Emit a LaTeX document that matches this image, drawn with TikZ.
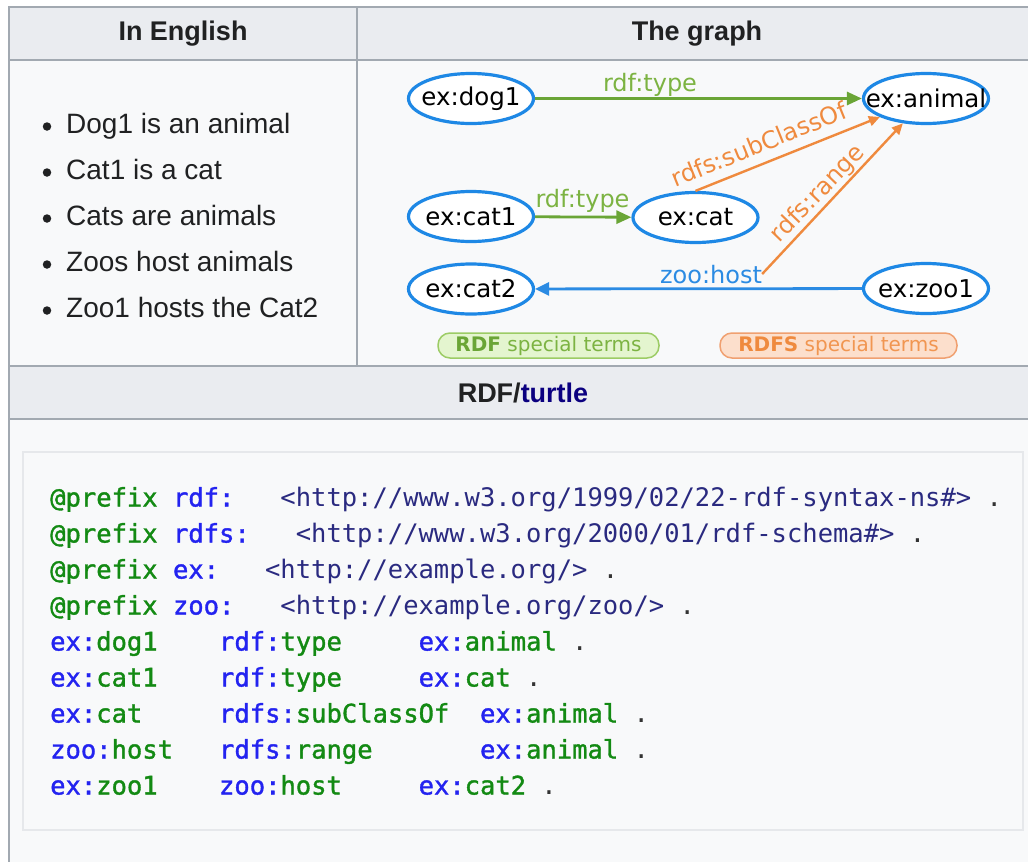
\documentclass[tikz,border=0pt]{standalone}
\usepackage{fontspec}
\setmainfont{Liberation Sans}
\newfontfamily\gfont{DejaVu Sans}
\newfontfamily\cfont{DejaVu Sans Mono}
\newfontfamily\cfontsb[FakeBold=1.4]{DejaVu Sans Mono}
\usetikzlibrary{arrows.meta,shapes.geometric}
\definecolor{hdr}{HTML}{EAECF0}
\definecolor{cell}{HTML}{F8F9FA}
\definecolor{bord}{HTML}{A2A9B1}
\definecolor{codeb}{HTML}{E6E8EB}
\definecolor{txt}{HTML}{202122}
\definecolor{nblue}{HTML}{1E88E5}
\definecolor{egreen}{HTML}{6AA536}
\definecolor{lgreen}{HTML}{7CB342}
\definecolor{eorange}{HTML}{EF8A3E}
\definecolor{eblue}{HTML}{2B8BE3}
\definecolor{kwg}{HTML}{138A13}
\definecolor{nsb}{HTML}{2323F0}
\definecolor{iric}{HTML}{2A2A80}
\definecolor{visited}{HTML}{0B0080}
\definecolor{rdfbox}{HTML}{E4F5CF}
\definecolor{rdfbord}{HTML}{9CCC65}
\definecolor{rdfsbox}{HTML}{FCDFCC}
\definecolor{rdfsbord}{HTML}{F0A070}
\newcommand\kw[1]{\textcolor{kwg}{\cfontsb #1}}
\newcommand\nsp[1]{\textcolor{nsb}{\cfontsb #1}}
\newcommand\loc[1]{\textcolor{kwg}{\cfontsb #1}}
\newcommand\iri[1]{\textcolor{iric}{#1}}
\newcommand\nt[1]{\makebox[0pt][c]{#1}}
\tikzset{
  tb/.style={draw=bord, line width=1.5pt},
  hdrtext/.style={font=\fontsize{27}{27}\selectfont\bfseries, text=txt},
  itemtext/.style={anchor=base west, font=\fontsize{28}{28}\selectfont, text=txt, inner sep=0pt},
  bul/.style={circle, fill=txt, minimum size=8.5pt, inner sep=0pt},
  gnode/.style={ellipse, draw=nblue, line width=3.2pt, fill=white, minimum width=125pt, minimum height=50pt, inner sep=0pt, font=\gfont\fontsize{24.5}{24.5}\selectfont, text=black},
  glabel/.style={font=\gfont\fontsize{24}{24}\selectfont, inner sep=0pt},
  gedge/.style={draw=egreen, line width=2.8pt, -{Triangle[length=15pt,width=13pt]}},
  oedge/.style={draw=eorange, line width=2.4pt, -{Triangle[length=11pt,width=10pt]}},
  bedge/.style={draw=eblue, line width=2.8pt, -{Triangle[length=14pt,width=13pt]}},
  legend/.style={rounded corners=12pt, line width=1.5pt, minimum height=25pt, inner sep=0pt, font=\gfont\fontsize{20}{20}\selectfont},
  codeline/.style={anchor=base west, inner sep=0pt, font=\cfont\fontsize{25.5}{25.5}\selectfont, text=black!80}
}
\begin{document}
\begin{tikzpicture}[x=1pt,y=-1pt]
\useasboundingbox (0,0) rectangle (1028,862);
\fill[white] (0,0) rectangle (1028,862);
% table background
\fill[hdr] (9,7) rectangle (1030,60);
\fill[cell] (9,60) rectangle (1030,366);
\fill[hdr] (9,366) rectangle (1030,419);
\fill[cell] (9,419) rectangle (1030,862);
\draw[tb] (9,7) -- (1030,7);
\draw[tb] (9,60) -- (1030,60);
\draw[tb] (9,366) -- (1030,366);
\draw[tb] (9,419) -- (1030,419);
\draw[tb] (9,6.25) -- (9,862);
\draw[tb] (357,7) -- (357,366);
% headers
\node[hdrtext] (h1) at (183,34) {In English};
\node[hdrtext] (h2) at (697,34) {The graph};
\node[hdrtext] (h3) at (523,393) {RDF/\textcolor{visited}{turtle}};
% bullet list
\node[bul] (b1) at (47,126.5) {};
\node[bul] (b2) at (47,172.5) {};
\node[bul] (b3) at (47,218.5) {};
\node[bul] (b4) at (47,264.5) {};
\node[bul] (b5) at (47,310.5) {};
\node[itemtext] (t1) at (66,133.3) {Dog1 is an animal};
\node[itemtext] (t2) at (66,179.3) {Cat1 is a cat};
\node[itemtext] (t3) at (66,225.3) {Cats are animals};
\node[itemtext] (t4) at (66,271.3) {Zoos host animals};
\node[itemtext] (t5) at (66,317.3) {Zoo1 hosts the Cat2};
% graph nodes
\node[gnode] (dog1) at (471,98.5) {\nt{ex:dog1}};
\node[gnode] (animal) at (926,98.5) {\nt{ex:animal}};
\node[gnode] (cat1) at (471,216.5) {\nt{ex:cat1}};
\node[gnode] (cat) at (695.5,217.5) {\nt{ex:cat}};
\node[gnode] (cat2) at (471,289) {\nt{ex:cat2}};
\node[gnode] (zoo1) at (926,288.5) {\nt{ex:zoo1}};
% edges
\draw[gedge] (dog1) -- (animal);
\node[glabel, anchor=base, text=lgreen] (l1) at (650,91) {rdf:type};
\draw[gedge] (cat1) -- (cat);
\node[glabel, anchor=base, text=lgreen] (l2) at (582.5,207) {rdf:type};
\draw[bedge] (zoo1) -- (cat2);
\node[glabel, anchor=base, text=eblue] (zh) at (711,283) {zoo:host};
\draw[oedge] (cat.north) -- (animal);
\node[glabel, rotate=22, text=eorange] (l3) at (759,144) {rdfs:subClassOf};
\draw[oedge] (zh.east) -- (animal);
\node[glabel, rotate=46, text=eorange] (l4) at (818,194) {rdfs:range};
% legend
\node[legend, draw=rdfbord, fill=rdfbox, minimum width=221pt] (lg1) at (548.5,345.5) {\textcolor{egreen}{\bfseries RDF} \textcolor{lgreen}{special terms}};
\node[legend, draw=rdfsbord, fill=rdfsbox, minimum width=237pt] (lg2) at (838.5,345.5) {\textcolor{eorange}{\bfseries RDFS} \textcolor{eorange!90!white}{special terms}};
% code box
\draw[draw=codeb, fill=cell, line width=1.5pt] (23,452) rectangle (1023,830);
\node[codeline] (c1) at (50,506.5) {\kw{@prefix}~\nsp{rdf:}~~~\iri{<http://www.w3.org/1999/02/22-rdf-syntax-ns\#>}~.};
\node[codeline] (c2) at (50,542.5) {\kw{@prefix}~\nsp{rdfs:}~~~\iri{<http://www.w3.org/2000/01/rdf-schema\#>}~.};
\node[codeline] (c3) at (50,578.5) {\kw{@prefix}~\nsp{ex:}~~~\iri{<http://example.org/>}~.};
\node[codeline] (c4) at (50,614.5) {\kw{@prefix}~\nsp{zoo:}~~~\iri{<http://example.org/zoo/>}~.};
\node[codeline] (c5) at (50,650.5) {\nsp{ex:}\loc{dog1}~~~~\nsp{rdf:}\loc{type}~~~~~\nsp{ex:}\loc{animal}~.};
\node[codeline] (c6) at (50,686.5) {\nsp{ex:}\loc{cat1}~~~~\nsp{rdf:}\loc{type}~~~~~\nsp{ex:}\loc{cat}~.};
\node[codeline] (c7) at (50,722.5) {\nsp{ex:}\loc{cat}~~~~~\nsp{rdfs:}\loc{subClassOf}~~\nsp{ex:}\loc{animal}~.};
\node[codeline] (c8) at (50,758.5) {\nsp{zoo:}\loc{host}~~~\nsp{rdfs:}\loc{range}~~~~~~~\nsp{ex:}\loc{animal}~.};
\node[codeline] (c9) at (50,794.5) {\nsp{ex:}\loc{zoo1}~~~~\nsp{zoo:}\loc{host}~~~~~\nsp{ex:}\loc{cat2}~.};
\end{tikzpicture}
\end{document}
